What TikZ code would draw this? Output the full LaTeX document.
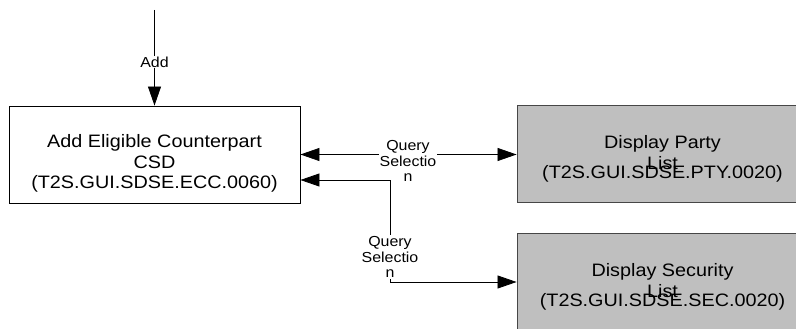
\documentclass[tikz,border=0pt]{standalone}
\usepackage{fontspec}
\setmainfont{Liberation Sans}[FakeStretch=1.1]
\usepackage{xcolor}
\usetikzlibrary{arrows.meta, positioning, calc}
\definecolor{screengray}{RGB}{191, 191, 191}
\definecolor{screenedge}{RGB}{70, 70, 70}

\begin{document}
\begin{tikzpicture}[
    x=1pt, y=-1pt,
    screen/.style={draw, line width=0.9pt, minimum width=291pt, minimum height=97pt,
                   inner sep=0pt},
    screenbg/.style={screen, fill=screengray, draw=screenedge},
    screentext/.style={align=center, inner sep=0pt,
                       font=\fontsize{18}{20.5}\selectfont},
    conn/.style={line width=0.8pt},
    tip/.tip={Triangle[length=19pt, width=13pt]},
    lbl/.style={fill=white, align=center, inner sep=1pt,
                font=\fontsize{14.5}{15.5}\selectfont}
  ]
    \useasboundingbox (0,0) rectangle (796,329);
    \clip (0,0) rectangle (796,329);
    % schermi
    \node[screen] (ecc) at (154.5,154.5) {};
    \node[screentext] (ecctext) at ([yshift=-9pt]ecc.center)
      {Add Eligible Counterpart\\CSD\\(T2S.GUI.SDSE.ECC.0060)};
    \node[screenbg] (pty) at (662.5,154) {};
    \node[screentext] (ptytext) at ([yshift=-5pt]pty.center)
      {Display Party\\List\\[-11pt](T2S.GUI.SDSE.PTY.0020)};
    \node[screenbg] (sec) at (662.5,282) {};
    \node[screentext] (sectext) at ([yshift=-5pt]sec.center)
      {Display Security\\List\\[-11pt](T2S.GUI.SDSE.SEC.0020)};
    % collegamenti
    \coordinate (addtop) at (154.5,10);
    \draw[conn, -tip] (addtop) -- (ecc.north);
    \node[lbl] (addlbl) at (154.5,62) {Add};
    \draw[conn, tip-tip] (ecc.east) -- (ecc.east -| pty.west);
    \node[lbl] (ptylbl) at (408,161) {Query\\Selectio\\n};
    \coordinate (knee) at (390,180);
    \draw[conn, tip-tip] (knee -| ecc.east) -- (knee) |- (sec.west);
    \node[lbl] (seclbl) at (390,257) {Query\\Selectio\\n};
  \end{tikzpicture}
\end{document}
